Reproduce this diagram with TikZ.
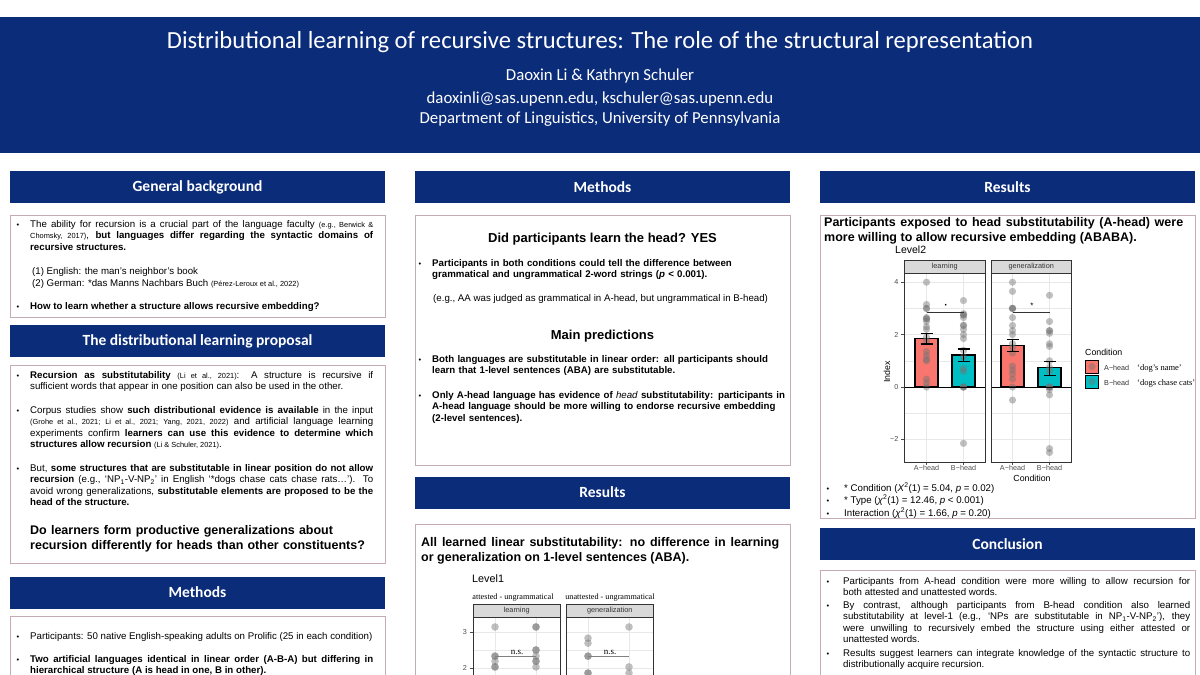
\documentclass[tikz,border=0pt]{standalone}
\usepackage{fontspec}
\setmainfont{Liberation Sans}
\newfontfamily\headfont{Carlito}
\newfontfamily\plotserif{Liberation Serif}
\usetikzlibrary{positioning}

\definecolor{pennblue}{RGB}{11,44,121}
\definecolor{boxline}{RGB}{196,172,178}
\definecolor{aheadred}{RGB}{248,118,109}
\definecolor{bheadteal}{RGB}{0,191,196}
\definecolor{stripgray}{RGB}{217,217,217}
\definecolor{gridgray}{RGB}{232,232,232}
\definecolor{axisgray}{RGB}{77,77,77}

\newcommand{\refsmall}[1]{{\fontsize{7.4}{9}\selectfont #1}}

\begin{document}
\begin{tikzpicture}[x=1pt,y=-1pt,
banner/.style={fill=pennblue, minimum width=375pt, minimum height=32pt, inner sep=0pt, text=white, font=\headfont\bfseries\fontsize{15.5}{18}\selectfont},
boxframe/.style={draw=boxline, line width=0.9pt, fill=white, minimum width=375pt, inner sep=0pt},
headline/.style={anchor=base, inner sep=0pt, text=white, font=\headfont\fontsize{16.8}{19}\selectfont},
para/.style={anchor=base west, inner sep=0pt, text width=343pt, align=justify, font=\fontsize{9.7}{11.6}\selectfont},
boldpara/.style={anchor=base west, inner sep=0pt, text width=362pt, align=left, font=\bfseries\fontsize{9.7}{11.6}\selectfont},
textline/.style={anchor=base west, inner sep=0pt, font=\fontsize{9.7}{11.6}\selectfont},
bul/.style={anchor=base, inner sep=0pt, font=\fontsize{7.5}{10}\selectfont},
question/.style={anchor=base west, inner sep=0pt, align=justify, font=\bfseries\fontsize{12.5}{15}\selectfont},
subhead/.style={anchor=base, inner sep=0pt, font=\bfseries\fontsize{13}{15}\selectfont},
strip/.style={draw=black!80, fill=stripgray, line width=0.5pt, inner sep=0pt, anchor=north west, text=black!80, font=\fontsize{7.3}{8}\selectfont},
facet/.style={draw=black!80, line width=0.5pt, inner sep=0pt, anchor=north west},
gridmajor/.style={draw=gridgray, line width=0.6pt},
gridminor/.style={draw=gridgray, line width=0.3pt},
ticklbl/.style={inner sep=0pt, text=axisgray, font=\fontsize{7.2}{8}\selectfont},
dotpt/.style={fill=black!55, fill opacity=0.45},
bar/.style={draw=black, line width=1.1pt},
errbar/.style={draw=black, line width=1.1pt}
]
\useasboundingbox (0,0) rectangle (1200,675);
\clip (0,0) rectangle (1200,675);
\fill[white] (0,0) rectangle (1200,675);

\fill[pennblue] (0,17) rectangle (1200,153);
\node[headline, font=\headfont\fontsize{24.6}{27}\selectfont] (title) at (600,48) {Distributional learning of recursive structures: The role of the structural representation};
\node[headline] (authors) at (600,80) {Daoxin Li \& Kathryn Schuler};
\node[headline] (emails) at (600,103) {daoxinli@sas.upenn.edu, kschuler@sas.upenn.edu};
\node[headline] (dept) at (600,123) {Department of Linguistics, University of Pennsylvania};

\node[banner] (bg_head) at (197.5,187) {General background};
\node[boxframe, minimum height=102pt, below=12pt of bg_head] (bg_box) {};
\node[banner] (prop_head) at (197.5,341) {The distributional learning proposal};
\node[boxframe, minimum height=198pt, below=8pt of prop_head] (prop_box) {};
\node[banner] (lmeth_head) at (197.5,592.5) {Methods};
\node[boxframe, minimum height=90pt, below=7pt of lmeth_head] (lmeth_box) {};

\node[banner] (mmeth_head) at (602.5,187) {Methods};
\node[boxframe, minimum height=250pt, below=12pt of mmeth_head] (mmeth_box) {};
\node[banner] (mres_head) at (602.5,492.5) {Results};
\node[boxframe, minimum height=180pt, below=15pt of mres_head] (mres_box) {};

\node[banner] (rres_head) at (1007.5,187) {Results};
\node[boxframe, minimum height=303pt, below=12pt of rres_head] (rres_box) {};
\node[banner] (conc_head) at (1007.5,544) {Conclusion};
\node[boxframe, minimum height=120pt, below=10pt of conc_head] (conc_box) {};

\foreach \by in {227,309,378,413,471,639,662} \node[bul] (lbul\by) at (18,\by) {\textbullet};
\foreach \by in {266,362,398} \node[bul] (mbul\by) at (420,\by) {\textbullet};
\foreach \by in {491,503,516,584,608,656} \node[bul] (rbul\by) at (828,\by) {\textbullet};

\node[para] (bg_ability) at (30,227) {The ability for recursion is a crucial part of the language faculty \refsmall{(e.g., Berwick \&}\linebreak \refsmall{Chomsky, 2017)}, \textbf{but languages differ regarding the syntactic domains of}\linebreak \textbf{recursive structures.}};
\node[textline] (bg_english) at (32,274) {(1) English: the man’s neighbor’s book};
\node[textline] (bg_german) at (32,286) {(2) German: *das Manns Nachbars Buch \refsmall{(Pérez-Leroux et al., 2022)}};
\node[textline, font=\bfseries\fontsize{9.7}{11.6}\selectfont] (bg_how) at (30,309) {How to learn whether a structure allows recursive embedding?};

\node[para] (prop_subst) at (30,378) {\textbf{Recursion as substitutability} \refsmall{(Li et al., 2021)}: A structure is recursive if\linebreak sufficient words that appear in one position can also be used in the other.};
\node[para] (prop_corpus) at (30,413) {Corpus studies show \textbf{such distributional evidence is available} in the input\linebreak \refsmall{(Grohe et al., 2021; Li et al., 2021; Yang, 2021, 2022)} and artificial language learning\linebreak experiments confirm \textbf{learners can use this evidence to determine which}\linebreak \textbf{structures allow recursion} \refsmall{(Li \& Schuler, 2021)}.};
\node[para] (prop_but) at (30,471) {But, \textbf{some structures that are substitutable in linear position do not allow}\linebreak \textbf{recursion} (e.g., ‘NP\textsubscript{1}-V-NP\textsubscript{2}’ in English ‘*dogs chase cats chase rats…’). To\linebreak avoid wrong generalizations, \textbf{substitutable elements are proposed to be the}\linebreak \textbf{head of the structure.}};
\node[question, text width=345pt, align=left] (prop_q) at (30,534) {Do learners form productive generalizations about\\recursion differently for heads than other constituents?};

\node[textline] (lmeth_part) at (30,639) {Participants: 50 native English-speaking adults on Prolific (25 in each condition)};
\node[para] (lmeth_lang) at (30,662) {\textbf{Two artificial languages identical in linear order (A-B-A) but differing in}\linebreak \textbf{hierarchical structure (A is head in one, B in other).}};

\node[subhead] (mmeth_q) at (602.5,242) {Did participants learn the head? YES};
\node[boldpara] (mmeth_diff) at (432,266) {Participants in both conditions could tell the difference between\\grammatical and ungrammatical 2-word strings (\textit{p} < 0.001).};
\node[textline] (mmeth_eg) at (433,301) {(e.g., AA was judged as grammatical in A-head, but ungrammatical in B-head)};
\node[subhead] (mmeth_pred) at (602.5,339) {Main predictions};
\node[boldpara] (mmeth_both) at (432,362) {Both languages are substitutable in linear order: all participants should\\learn that 1-level sentences (ABA) are substitutable.};
\node[boldpara] (mmeth_only) at (432,398) {Only A-head language has evidence of \textmd{\textit{head}} substitutability: participants in\\A-head language should be more willing to endorse recursive embedding\\(2-level sentences).};

\node[question, text width=358pt] (mres_claim) at (421,546) {All learned linear substitutability: no difference in learning\linebreak or generalization on 1-level sentences (ABA).};
\node[anchor=base west, inner sep=0pt, font=\fontsize{10.8}{13}\selectfont] (lvl1_title) at (472,582) {Level1};
\node[anchor=base, inner sep=0pt, font=\plotserif\fontsize{8.2}{10}\selectfont] (lvl1_att) at (513,599) {attested - ungrammatical};
\node[anchor=base, inner sep=0pt, font=\plotserif\fontsize{8.2}{10}\selectfont] (lvl1_unatt) at (610,599) {unattested - ungrammatical};
\foreach \px in {473,566} {
  \draw[gridminor] (\px,650) -- (\px+87,650);
  \foreach \gy in {632,668} \draw[gridmajor] (\px,\gy) -- (\px+87,\gy);
}
\foreach \cx in {495,536,588,629} \draw[gridmajor] (\cx,617) -- (\cx,690);
\begin{scope}[shift={(0,740)}, y=36pt]
  \foreach \cx/\vals in {495/{3.14,2.33,2.33,2.19,2.03,2.03}, 536/{3.14,3.14,2.5,2.5,2.33,2.19,2.19,2.03}, 588/{2.83,2.69,2.33,2.33,1.86,1.86}, 629/{3.14,2.03,1.86}}
    \foreach \v in \vals \fill[dotpt] (\cx,\v) circle[radius=3.8pt];
  \draw[black!50, line width=1pt] (495,2.31) -- (536,2.31);
  \draw[black!50, line width=1pt] (588,2.31) -- (629,2.31);
  \node[anchor=base, inner sep=0pt, font=\plotserif\fontsize{9}{10}\selectfont] (ns_learn) at (517,2.37) {n.s.};
  \node[anchor=base, inner sep=0pt, font=\plotserif\fontsize{9}{10}\selectfont] (ns_gen) at (610,2.37) {n.s.};
\end{scope}
\node[strip, minimum width=87pt, minimum height=13pt] (l1_strip_learn) at (473,604) {learning};
\node[strip, minimum width=87pt, minimum height=13pt] (l1_strip_gen) at (566,604) {generalization};
\node[facet, minimum width=87pt, minimum height=90pt] (l1_panel_learn) at (473,617) {};
\node[facet, minimum width=87pt, minimum height=90pt] (l1_panel_gen) at (566,617) {};
\foreach \v/\py in {3/632,2/668} {
  \node[ticklbl, anchor=east] (l1_tick\v) at (467,\py) {\v};
  \draw[axisgray, line width=0.5pt] (469.5,\py) -- (473,\py);
}

\node[question, text width=359pt] (rres_claim) at (824,226) {Participants exposed to head substitutability (A-head) were\linebreak more willing to allow recursive embedding (ABABA).};
\node[anchor=base west, inner sep=0pt, font=\fontsize{10.5}{13}\selectfont] (lvl2_title) at (895,253) {Level2};
\foreach \px/\pw in {904/81,991/80} {
  \foreach \gy in {413.2,360.8,308.4} \draw[gridminor] (\px,\gy) -- (\px+\pw,\gy);
  \foreach \gy in {439.4,387,334.6,282.2} \draw[gridmajor] (\px,\gy) -- (\px+\pw,\gy);
}
\foreach \cx in {926.5,963.5,1012.5,1049.5} {
  \draw[gridmajor] (\cx,273) -- (\cx,462);
  \draw[axisgray, line width=0.5pt] (\cx,462) -- (\cx,465);
}
\begin{scope}[shift={(0,387)}, y=26.2pt]
  \foreach \cx/\h/\col in {926.5/1.85/aheadred, 963.5/1.22/bheadteal, 1012.5/1.6/aheadred, 1049.5/0.73/bheadteal}
    \draw[bar, fill=\col] (\cx-11.5,0) rectangle (\cx+11.5,\h);
  \foreach \cx/\vals in {926.5/{4.0,3.15,3.0,3.0,2.65,2.6,2.6,2.5,2.3,2.2,1.9,1.75,1.35,1.2,1.05,1.0,0.3,0.15,0}, 963.5/{3.3,2.8,2.75,2.75,2.65,2.35,2.35,2.2,2.0,1.85,1.4,1.15,0.7,0.6,0,0,0,-2.15}, 1012.5/{4.0,3.65,3.0,3.0,3.0,2.65,2.35,2.15,2.0,1.65,1.5,1.3,0.8,0.65,0.5,0.3,0,-0.5}, 1049.5/{3.5,2.5,2.15,2.15,2.05,1.65,1.55,1.0,0.75,0.6,0,0,0,-0.1,-0.3,-2.35,-2.5}}
    \foreach \v in \vals \fill[dotpt] (\cx,\v) circle[radius=3.6pt];
  \foreach \cx/\lo/\hi in {926.5/1.64/2.04, 963.5/0.97/1.45, 1012.5/1.37/1.83, 1049.5/0.45/0.98} {
    \draw[errbar] (\cx,\lo) -- (\cx,\hi);
    \draw[errbar] (\cx-6,\lo) -- (\cx+6,\lo);
    \draw[errbar] (\cx-6,\hi) -- (\cx+6,\hi);
  }
  \draw[black, line width=0.9pt] (904,0) -- (985,0);
  \draw[black, line width=0.9pt] (991,0) -- (1071,0);
  \draw[black!80, line width=0.5pt] (926.5,2.85) -- (963.5,2.85);
  \draw[black!80, line width=0.5pt] (1012.5,2.85) -- (1049.5,2.85);
  \node[inner sep=0pt, font=\bfseries\fontsize{10}{10}\selectfont] (sig_learn) at (946,3.06) {·};
  \node[inner sep=0pt, font=\fontsize{8}{10}\selectfont] (sig_gen) at (1032,3.1) {*};
  \foreach \v/\lbl in {4/4,2/2,0/0,-2/−2} {
    \node[ticklbl, anchor=east] (l2_tick\v) at (898.5,\v) {\lbl};
    \draw[axisgray, line width=0.5pt] (901,\v) -- (904,\v);
  }
\end{scope}
\node[strip, minimum width=81pt, minimum height=13pt] (l2_strip_learn) at (904,260) {learning};
\node[strip, minimum width=80pt, minimum height=13pt] (l2_strip_gen) at (991,260) {generalization};
\node[facet, minimum width=81pt, minimum height=189pt] (l2_panel_learn) at (904,273) {};
\node[facet, minimum width=80pt, minimum height=189pt] (l2_panel_gen) at (991,273) {};
\node[ticklbl, anchor=base] (l2_xa1) at (926.5,470) {A−head};
\node[ticklbl, anchor=base] (l2_xb1) at (963.5,470) {B−head};
\node[ticklbl, anchor=base] (l2_xa2) at (1012.5,470) {A−head};
\node[ticklbl, anchor=base] (l2_xb2) at (1049.5,470) {B−head};
\node[anchor=base, inner sep=0pt, font=\fontsize{8.8}{10}\selectfont] (l2_xlab) at (1032,481) {Condition};
\node[rotate=90, inner sep=0pt, font=\fontsize{8.8}{10}\selectfont] (l2_ylab) at (887,372) {Index};
\node[anchor=base west, inner sep=0pt, font=\fontsize{8.8}{10}\selectfont] (leg_title) at (1085,355) {Condition};
\draw[bar, line width=0.9pt, fill=aheadred] (1085.5,360) rectangle (1098.5,373);
\draw[bar, line width=0.9pt, fill=bheadteal] (1085.5,375) rectangle (1098.5,388);
\fill[dotpt] (1092,366.5) circle[radius=3.6pt];
\fill[dotpt] (1092,381.5) circle[radius=3.6pt];
\node[anchor=base west, inner sep=0pt, text=black!80, font=\fontsize{7.2}{8}\selectfont] (leg_a) at (1104,370) {A−head};
\node[anchor=base west, inner sep=0pt, text=black!80, font=\fontsize{7.2}{8}\selectfont] (leg_b) at (1104,385) {B−head};
\node[anchor=base west, inner sep=0pt, font=\plotserif\fontsize{8.5}{10}\selectfont] (leg_a_gloss) at (1137,370) {‘dog’s name’};
\node[anchor=base west, inner sep=0pt, font=\plotserif\fontsize{8.5}{10}\selectfont] (leg_b_gloss) at (1137,385) {‘dogs chase cats’};

\node[textline] (stat_cond) at (844,491) {* Condition (\textit{X}\textsuperscript{2}(1) = 5.04, \textit{p} = 0.02)};
\node[textline] (stat_type) at (844,503) {* Type (\textit{χ}\textsuperscript{2}(1) = 12.46, \textit{p} < 0.001)};
\node[textline] (stat_int) at (844,516) {Interaction (\textit{χ}\textsuperscript{2}(1) = 1.66, \textit{p} = 0.20)};

\node[para, text width=347pt] (conc_ahead) at (843,584) {Participants from A-head condition were more willing to allow recursion for\linebreak both attested and unattested words.};
\node[para, text width=347pt] (conc_bhead) at (843,608) {By contrast, although participants from B-head condition also learned\linebreak substitutability at level-1 (e.g., ‘NPs are substitutable in NP\textsubscript{1}-V-NP\textsubscript{2}’), they\linebreak were unwilling to recursively embed the structure using either attested or\linebreak unattested words.};
\node[para, text width=347pt] (conc_suggest) at (843,656) {Results suggest learners can integrate knowledge of the syntactic structure to\linebreak distributionally acquire recursion.};
\end{tikzpicture}
\end{document}
